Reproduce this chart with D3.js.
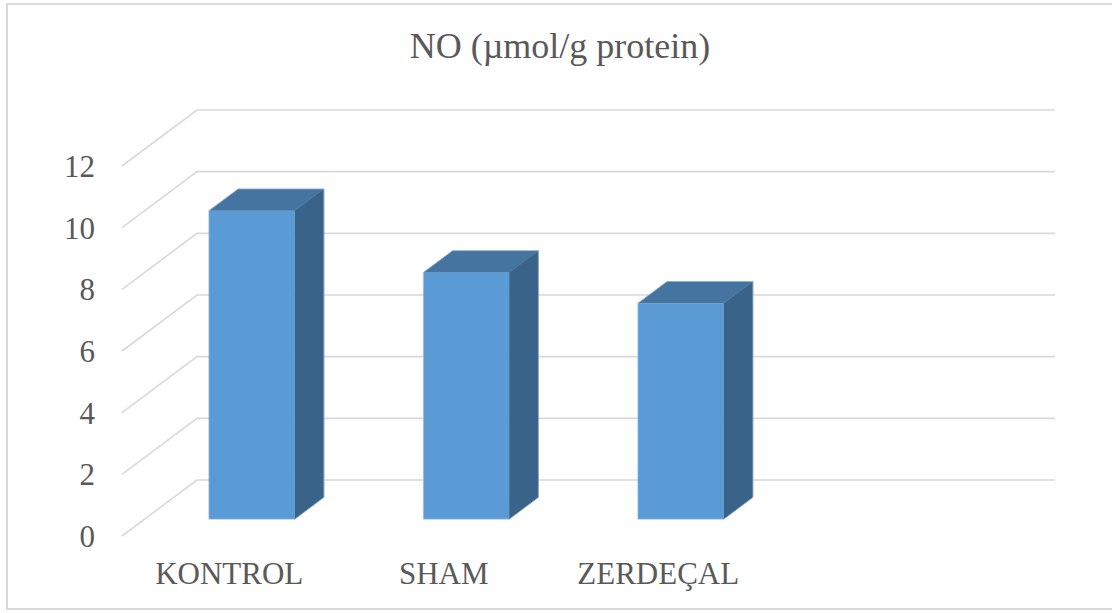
<!DOCTYPE html>
<html>
<head>
<meta charset="utf-8">
<script src="https://cdn.jsdelivr.net/npm/d3@7"></script>
<style>
  html, body { margin: 0; padding: 0; background: #fff; }
  svg { display: block; }
</style>
</head>
<body>
<svg id="chart" width="1112" height="613"></svg>
<script>
// Data
const title = "NO (\u00b5mol/g protein)";
const categories = ["KONTROL", "SHAM", "ZERDE\u00c7AL", ""];
const values = [10, 8, 7, null];
const tickValues = [0, 2, 4, 6, 8, 10, 12];

const FONT = "'Times New Roman', 'Liberation Serif', Tinos, 'DejaVu Serif', serif";
const svg = d3.select("#chart");

// Outer chart border
svg.append("rect")
  .attr("x", 7).attr("y", 4).attr("width", 1112).attr("height", 605)
  .attr("fill", "none").attr("stroke", "#d9d9d9").attr("stroke-width", 2);

// Front plane scales
const x = d3.scaleBand().domain(categories).range([122, 980]).paddingInner(0).paddingOuter(0);
const y = d3.scaleLinear().domain([0, 12]).range([536, 166]);

// Depth vector: from front edge of the floor to the back wall
const depth = { dx: 75, dy: -56 };
const barFront = 0.30, barBack = 0.69;   // bar position in the depth
const barWidthFrac = 0.40;              // share of the band taken by a bar

// Gridlines: diagonal on the side wall + horizontal on the back wall
const grid = svg.append("g").attr("stroke", "#d9d9d9").attr("stroke-width", 1.6).attr("fill", "none");
tickValues.forEach(v => {
  const fx = x.range()[0], fy = y(v);
  const bx = fx + depth.dx, by = fy + depth.dy;
  const ex = x.range()[1] + depth.dx;
  grid.append("path").attr("d", `M${fx},${fy}L${bx},${by}L${ex},${by}`);
});

// Value axis labels
svg.append("g").selectAll("text").data(tickValues).join("text")
  .attr("x", 95).attr("y", d => y(d)).attr("dy", "0.35em")
  .attr("text-anchor", "end")
  .style("font-family", FONT).style("font-size", "31px").style("fill", "#595959")
  .text(d => d);

// Category labels
svg.append("g").selectAll("text").data(categories).join("text")
  .attr("x", d => x(d) + x.bandwidth() / 2).attr("y", 584)
  .attr("text-anchor", "middle")
  .style("font-family", FONT).style("font-size", "31px").style("fill", "#595959")
  .text(d => d);

// 3D bars
const bars = svg.append("g");
categories.forEach((c, i) => {
  const v = values[i];
  if (v == null) return;
  const bw = x.bandwidth() * barWidthFrac;
  const ox = depth.dx * barFront, oy = depth.dy * barFront;
  const ddx = depth.dx * (barBack - barFront), ddy = depth.dy * (barBack - barFront);
  const x0 = x(c) + (x.bandwidth() - bw) / 2 + ox;
  const x1 = x0 + bw;
  const yb = y(0) + oy, yt = y(v) + oy;
  const g = bars.append("g");
  // right side
  g.append("path")
    .attr("d", `M${x1},${yb}L${x1 + ddx},${yb + ddy}L${x1 + ddx},${yt + ddy}L${x1},${yt}Z`)
    .attr("fill", "#396389").attr("stroke", "#396389").attr("stroke-width", 0.5);
  // top
  g.append("path")
    .attr("d", `M${x0},${yt}L${x0 + ddx},${yt + ddy}L${x1 + ddx},${yt + ddy}L${x1},${yt}Z`)
    .attr("fill", "#4574a0").attr("stroke", "#4574a0").attr("stroke-width", 0.5);
  // front face
  g.append("rect")
    .attr("x", x0).attr("y", yt).attr("width", bw).attr("height", yb - yt)
    .attr("fill", "#5b9bd5");
  // light outline along the outer edges
  g.append("path")
    .attr("d", `M${x0},${yb}L${x0},${yt}L${x0 + ddx},${yt + ddy}L${x1 + ddx},${yt + ddy}L${x1 + ddx},${yb + ddy}L${x1},${yb}Z`)
    .attr("fill", "none").attr("stroke", "#a9c4e0").attr("stroke-width", 0.8).attr("stroke-opacity", 0.7);
});

// Title
svg.append("text")
  .attr("x", 560).attr("y", 58).attr("text-anchor", "middle")
  .style("font-family", FONT).style("font-size", "36px").style("fill", "#595959")
  .text(title);
</script>
</body>
</html>
